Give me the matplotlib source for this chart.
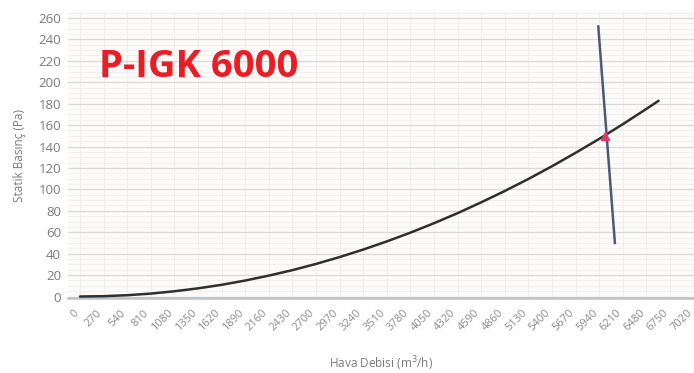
import numpy as np
import matplotlib.pyplot as plt
from matplotlib.ticker import MultipleLocator
from matplotlib.transforms import ScaledTranslation

# === Data ===
flow_ticks = list(range(0, 7021, 270))
press_ticks = list(range(0, 261, 20))

# system curve (Hava Debisi m3/h, Statik Basinc Pa)
sys_flow = [0, 270, 540, 810, 1080, 1350, 1620, 1890, 2160, 2430, 2700, 2970,
            3240, 3510, 3780, 4050, 4320, 4590, 4860, 5130, 5400, 5670, 5940,
            6210, 6480, 6620]
sys_press = [0, 0.3, 1.2, 2.7, 4.9, 7.6, 10.9, 14.9, 19.5, 24.6, 30.4, 36.8,
             43.8, 51.4, 59.6, 68.4, 77.8, 87.9, 98.5, 109.7, 121.6, 134.1, 147.1,
             160.8, 175.1, 182.7]

# fan line
fan_flow = [5930, 6120]
fan_press = [252, 50]

# operating point
op_flow = [6010]
op_press = [150]

title = "P-IGK 6000"

# === Figure ===
plt.rcParams['font.family'] = ['Open Sans', 'DejaVu Sans']
fig = plt.figure(figsize=(6.94, 3.73), dpi=100)
fig.patch.set_facecolor("white")

W, H = 694, 373
ax_l, ax_r, ax_t, ax_b = 68, 694, 12, 298
ax = fig.add_axes([ax_l / W, (H - ax_b) / H, (ax_r - ax_l) / W, (ax_b - ax_t) / H])
ax.set_facecolor("#fdfbfa")

px_per_flow = 0.0874
px_per_pa = 1.0712
x0_px, y0_px = 80, 296.5
ax.set_xlim((ax_l - x0_px) / px_per_flow, (ax_r - x0_px) / px_per_flow)
ax.set_ylim((y0_px - ax_b) / px_per_pa, (y0_px - ax_t) / px_per_pa)

# grid
ax.set_yticks(press_ticks)
ax.yaxis.set_minor_locator(MultipleLocator(5))
ax.set_xticks(flow_ticks)
ax.grid(which="major", axis="y", color="#d9d9d9", lw=0.9)
ax.grid(which="minor", axis="y", color="#efeded", lw=0.6)
ax.grid(which="major", axis="x", color="#f1eeee", lw=0.8)
ax.set_axisbelow(True)

for s in ["top", "right", "left"]:
    ax.spines[s].set_visible(False)
ax.spines["bottom"].set_color("#b9c3cb")
ax.spines["bottom"].set_linewidth(1.8)

ax.tick_params(axis="y", which="both", length=0, pad=5, labelsize=9.5, labelcolor="#7a7a7a")
ax.tick_params(axis="x", which="both", length=0, pad=7, labelsize=8, labelcolor="#8a8a8a")
shift = ScaledTranslation(-7 / 100, 0, fig.dpi_scale_trans)
for lbl in ax.get_xticklabels():
    lbl.set_rotation(45)
    lbl.set_ha("right")
    lbl.set_rotation_mode("anchor")
    lbl.set_transform(lbl.get_transform() + shift)

# === Plot ===
ax.plot(sys_flow, sys_press, color="#2f2f2f", lw=1.8, solid_capstyle="round", zorder=3)
ax.plot(fan_flow, fan_press, color="#4b5876", lw=1.8, zorder=4)
ax.plot(op_flow, op_press, marker="^", ms=6, color="#e0386a", zorder=5)

ax.set_xlabel("Hava Debisi (m$^3$/h)", fontsize=8.5, color="#7a7a7a", labelpad=15)
ax.set_ylabel("Statik Basınç (Pa)", fontsize=8.5, color="#7a7a7a", labelpad=9)

fig.text(99 / W, 1 - 67 / H, title, color="#ea1c24", fontsize=27.5,
         fontweight="bold", va="center", ha="left")

fig.savefig("out.png", dpi=100, facecolor="white")
